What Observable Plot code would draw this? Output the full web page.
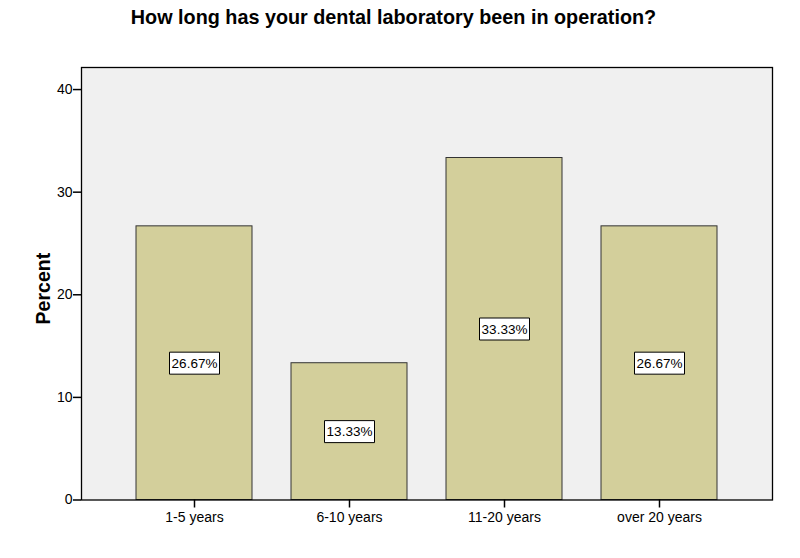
<!DOCTYPE html>
<html>
<head>
<meta charset="utf-8">
<script src="https://cdn.jsdelivr.net/npm/d3@7"></script>
<script src="https://cdn.jsdelivr.net/npm/@observablehq/plot@0.6"></script>
<style>
  html, body { margin: 0; padding: 0; background: #fff; }
  #wrap { position: relative; width: 800px; height: 558px; font-family: "Liberation Sans", Arial, sans-serif; }
  #title { position: absolute; left: 0; top: 6px; width: 787px; text-align: center; font-weight: bold; font-size: 19.8px; color: #000; white-space: nowrap; }
</style>
</head>
<body>
<div id="wrap">
  <div id="title">How long has your dental laboratory been in operation?</div>
</div>
<script>
const categories = ["1-5 years", "6-10 years", "11-20 years", "over 20 years"];
const percents = [26.67, 13.33, 33.33, 26.67];
const valueLabels = ["26.67%", "13.33%", "33.33%", "26.67%"];
const yTicks = [0, 10, 20, 30, 40];
const yAxisTitle = "Percent";

const data = categories.map((c, i) => ({ cat: c, value: percents[i], label: valueLabels[i] }));

const boxSymbol = {
  draw(context, size) {
    context.moveTo(-25, -11);
    context.lineTo(25, -11);
    context.lineTo(25, 11);
    context.lineTo(-25, 11);
    context.closePath();
  }
};

const yDomain = [0, 42.15];

const chart = Plot.plot({
  width: 800,
  height: 558,
  marginLeft: 81,
  marginRight: 28,
  marginTop: 67,
  marginBottom: 58.5,
  style: { fontFamily: "'Liberation Sans', Arial, sans-serif", fontSize: "14px", background: "transparent", color: "#000" },
  x: { domain: categories, paddingInner: 0.25, paddingOuter: 0.354, label: null },
  y: { domain: yDomain, label: null },
  marks: [
    Plot.frame({ fill: "#f0f0f0", stroke: null }),
    Plot.barY(data, { x: "cat", y: "value", fill: "#d3cf9b", stroke: "#333", strokeWidth: 1 }),
    Plot.dot(data, { x: "cat", y: d => d.value / 2, symbol: boxSymbol, r: 5, fill: "#fff", stroke: "#000", strokeWidth: 1 }),
    Plot.text(data, { x: "cat", y: d => d.value / 2, text: "label", fill: "#000", fontSize: 13.5, dy: 0.5 }),
    Plot.frame({ stroke: "#000", strokeWidth: 1.3, fill: null }),
    Plot.axisY({ ticks: yTicks, tickSize: 8, tickPadding: 1, strokeWidth: 1.5, fontSize: 14, label: null }),
    Plot.axisX({ tickSize: 8, tickPadding: 4, strokeWidth: 1.5, fontSize: 14, label: null }),
    Plot.text([yAxisTitle], { y: () => 20.6, frameAnchor: "left", textAnchor: "middle", dx: -38, rotate: -90, text: d => d, fontWeight: "bold", fontSize: 19.5, fill: "#000" })
  ]
});
chart.style.position = "absolute";
chart.style.left = "0";
chart.style.top = "0";
document.getElementById("wrap").prepend(chart);
</script>
</body>
</html>
